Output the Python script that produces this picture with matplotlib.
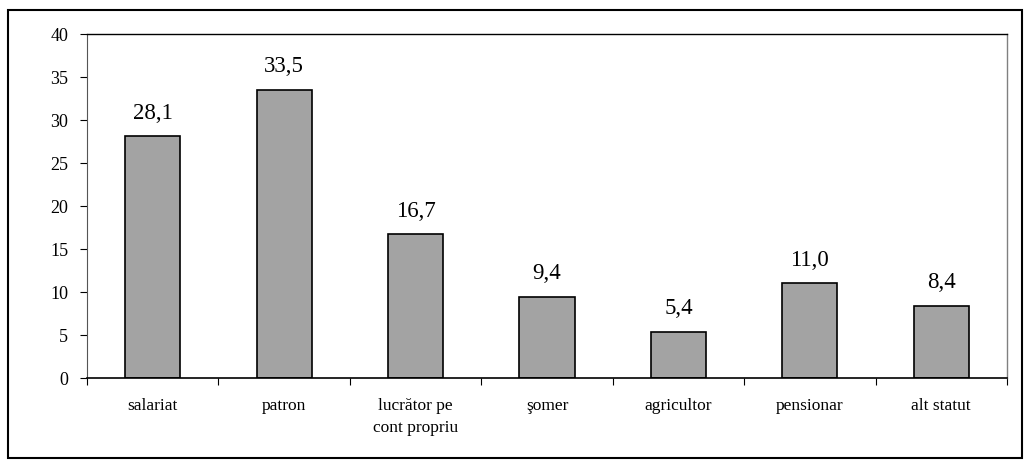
import matplotlib.pyplot as plt
from matplotlib.patches import Rectangle

# Dados
categorias = ["salariat", "patron", "lucrător pe\ncont propriu", "şomer",
              "agricultor", "pensionar", "alt statut"]
valores = [28.1, 33.5, 16.7, 9.4, 5.4, 11.0, 8.4]
rotulos = ["28,1", "33,5", "16,7", "9,4", "5,4", "11,0", "8,4"]
yticks = [0, 5, 10, 15, 20, 25, 30, 35, 40]

plt.rcParams["font.family"] = ["Liberation Serif", "DejaVu Serif"]

fig = plt.figure(figsize=(10.27, 4.64), dpi=100)
ax = fig.add_axes([87 / 1027, 1 - 379 / 464, 920 / 1027, 344 / 464])

# moldura externa
fig.patches.append(Rectangle((8 / 1027, 1 - 459 / 464), 1014 / 1027, 448 / 464,
                             transform=fig.transFigure, fill=False,
                             edgecolor="black", linewidth=1.5))

x = range(len(categorias))
ax.bar(x, valores, width=0.42, color="#a3a3a3", edgecolor="black", linewidth=1.2)

for xi, v, r in zip(x, valores, rotulos):
    ax.text(xi, v + 1.6, r, ha="center", va="bottom", fontsize=16.5)

ax.set_xlim(-0.5, len(categorias) - 0.5)
ax.set_ylim(0, 40)
ax.set_yticks(yticks)
ax.set_yticklabels([str(t) for t in yticks], fontsize=13)

ax.set_xticks([i - 0.5 for i in range(len(categorias) + 1)], minor=False)
ax.set_xticklabels([])
ax.set_xticks(list(x), minor=True)
ax.set_xticklabels(categorias, minor=True, fontsize=12.5, linespacing=1.45)
ax.tick_params(axis="x", which="minor", length=0, pad=14)
ax.tick_params(axis="x", which="major", direction="out", length=5)
ax.tick_params(axis="y", direction="out", length=5, pad=8.5)

for s in ["top", "right"]:
    ax.spines[s].set_linewidth(1.0)
ax.spines["right"].set_color("#808080")
ax.spines["left"].set_color("#555555")
ax.spines["bottom"].set_linewidth(1.2)

plt.savefig("out.png", dpi=100)
